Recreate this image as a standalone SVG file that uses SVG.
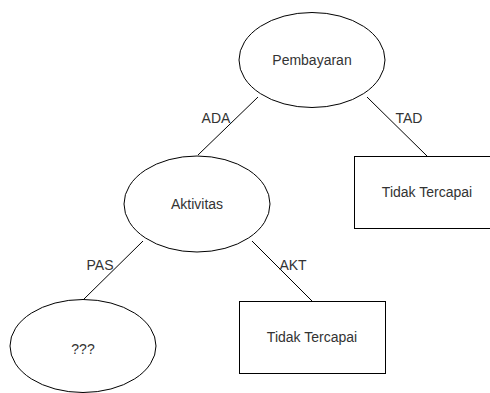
<svg xmlns="http://www.w3.org/2000/svg" width="490" height="393" viewBox="0 0 490 393">
<style>
.n{fill:#fff;stroke:#000;stroke-width:1}
.t{font-family:"Liberation Sans",Arial,sans-serif;font-size:14px;fill:#333;text-anchor:middle;dominant-baseline:central}
.c{stroke:#000;stroke-width:1;fill:none}
</style>
<rect width="490" height="393" fill="#fff"/>
<g id="connectors">
<line class="c" x1="258" y1="97" x2="198" y2="155"/>
<line class="c" x1="367" y1="97" x2="427" y2="156"/>
<line class="c" x1="143" y1="241" x2="83" y2="300"/>
<line class="c" x1="252" y1="241" x2="312" y2="301"/>
<text class="t" x="216" y="118">ADA</text>
<text class="t" x="409" y="118">TAD</text>
<text class="t" x="100" y="265">PAS</text>
<text class="t" x="293" y="265">AKT</text>
</g>
<g id="pembayaran">
<ellipse class="n" cx="312" cy="60" rx="73" ry="47.5"/>
<text class="t" x="312" y="60">Pembayaran</text>
</g>
<g id="tidak1">
<rect class="n" x="354.5" y="156.5" width="146" height="72"/>
<text class="t" x="427" y="192">Tidak Tercapai</text>
</g>
<g id="aktivitas">
<ellipse class="n" cx="197" cy="204" rx="73" ry="48"/>
<text class="t" x="197" y="204">Aktivitas</text>
</g>
<g id="unknown">
<ellipse class="n" cx="83" cy="346" rx="73" ry="46.5"/>
<text class="t" x="83" y="349">???</text>
</g>
<g id="tidak2">
<rect class="n" x="239.5" y="301.5" width="146" height="72"/>
<text class="t" x="312" y="337">Tidak Tercapai</text>
</g>
</svg>
